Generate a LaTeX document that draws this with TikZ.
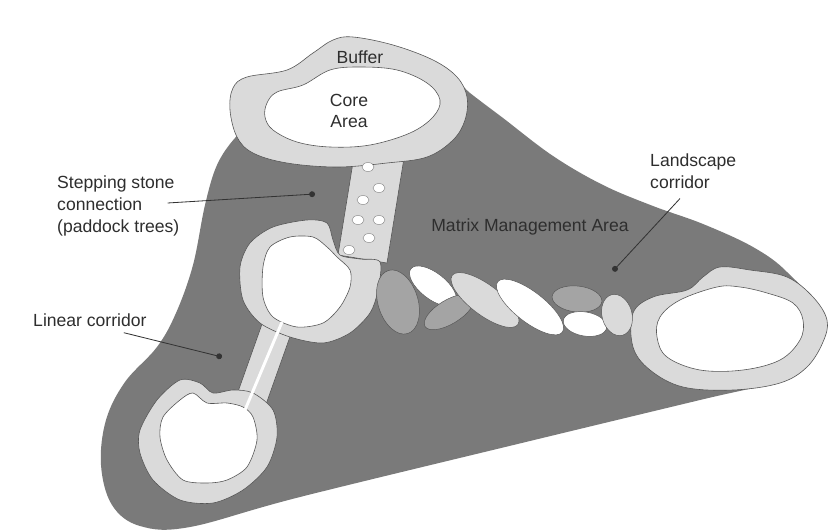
\documentclass[tikz,border=0pt]{standalone}
\usepackage{xcolor}
\usepackage{fontspec}
\setmainfont{Liberation Sans}
\usepackage{tikz}
\usetikzlibrary{arrows.meta, positioning, calc}

\definecolor{matrixgrey}{HTML}{7A7A7A}
\definecolor{buffergrey}{HTML}{DADADA}
\definecolor{lensgrey}{HTML}{A4A4A4}
\definecolor{edgegrey}{HTML}{555555}
\definecolor{textgrey}{HTML}{2E2E2E}

\begin{document}
\begin{tikzpicture}[
    x=0.03cm, y=-0.03cm,
    matrixarea/.style={fill=matrixgrey, draw=none},
    buffer/.style={fill=buffergrey, draw=edgegrey, line width=0.5pt},
    core/.style={fill=white, draw=edgegrey, line width=0.5pt},
    corridor/.style={fill=buffergrey, draw=edgegrey, line width=0.5pt},
    stone/.style={fill=white, draw=edgegrey!70, line width=0.4pt},
    darklens/.style={fill=lensgrey, draw=edgegrey, line width=0.4pt},
    lightlens/.style={fill=buffergrey, draw=edgegrey, line width=0.4pt},
    whitelens/.style={fill=white, draw=edgegrey, line width=0.4pt},
    caption/.style={font=\fontsize{15}{18.5}\selectfont, text=textgrey, align=left, inner sep=0pt},
    pointer/.style={draw=black!80, line width=0.7pt, -{Circle[length=5pt]}}
]

\useasboundingbox[fill=white] (0,0) rectangle (834,531);

% Matrix
\fill[matrixarea] plot[smooth cycle, tension=0.6] coordinates {
    (250,128) (330,115) (400,95) (443,71) (470,93) (503,118) (553,156) (603,185)
    (653,206) (703,224) (753,247) (787,272) (815,310) (800,365) (775,382)
    (700,400) (530,441) (300,497) (190,527) (140,526) (112,505) (101,465)
    (106,420) (125,382) (157,347) (176,313) (193,265) (205,205) (217,165)
    (235,138)};

% Corridors
\draw[corridor] (267,310) -- (297,317) -- (264,410) -- (234,403) -- cycle;
\draw[corridor] (355,150) -- (404,158) -- (387,263) -- (338,255) -- cycle;

% Patches
\draw[buffer] plot[smooth cycle, tension=0.6] coordinates {
    (230,110) (233,88) (247,77) (287,70) (313,53) (333,40) (353,37) (393,45)
    (433,60) (457,77) (467,97) (465,120) (453,140) (427,157) (387,163)
    (337,167) (287,163) (253,153) (237,137)};
\draw[core] plot[smooth cycle, tension=0.6] coordinates {
    (267,103) (277,92) (303,85) (330,70) (360,67) (397,70) (427,83) (440,100)
    (433,117) (410,133) (370,145) (330,147) (297,142) (273,130) (265,117)};

\draw[buffer] plot[smooth cycle, tension=0.5] coordinates {
    (243,300) (240,267) (250,243) (273,227) (307,220) (327,223) (333,240)
    (340,255) (360,259) (380,262) (378,290) (370,313) (350,333) (323,343)
    (290,337) (260,323)};
\draw[core] plot[smooth cycle, tension=0.5] coordinates {
    (263,267) (270,247) (290,237) (313,237) (327,247) (337,257) (350,270)
    (350,287) (340,307) (323,323) (297,327) (273,317) (263,297)};

\draw[buffer] plot[smooth cycle, tension=0.5] coordinates {
    (140,453) (140,430) (157,400) (180,380) (200,383) (213,393) (233,390)
    (253,393) (273,410) (277,437) (267,467) (243,490) (213,503) (180,500)
    (153,480)};
\draw[core] plot[smooth cycle, tension=0.5] coordinates {
    (160,437) (163,417) (180,400) (193,393) (207,403) (227,403) (243,407)
    (253,417) (257,440) (247,467) (227,480) (207,483) (183,480) (167,460)};

\draw[buffer] plot[smooth cycle, tension=0.6] coordinates {
    (653,297) (687,290) (703,277) (720,267) (750,270) (787,277) (813,297)
    (827,320) (823,342) (807,367) (780,383) (733,390) (683,387) (650,370)
    (633,347) (633,313)};
\draw[core] plot[smooth cycle, tension=0.6] coordinates {
    (657,337) (660,317) (680,300) (717,287) (740,287) (767,293) (793,303)
    (803,320) (800,340) (780,360) (743,370) (700,370) (667,357)};

% Linear corridor track
\draw[white, line width=2.5pt] (282,322) -- (245,410);

% Stepping stones
\foreach \sx/\sy in {368/167, 379/188, 363/200, 358/220, 379/220, 369/238, 349/250}
    \draw[stone] (\sx,\sy) ellipse [x radius=6, y radius=4.5];

% Landscape corridor
\draw[darklens, rotate around={17:(398,302)}] (398,302) ellipse [x radius=20, y radius=33];
\draw[whitelens, rotate around={-38:(433,286)}] (433,286) ellipse [x radius=28, y radius=13];
\draw[darklens, rotate around={31:(449,312)}] (449,312) ellipse [x radius=28, y radius=12];
\draw[lightlens, rotate around={-37:(485,300)}] (485,300) ellipse [x radius=41, y radius=15];
\draw[whitelens, rotate around={-38:(530,307)}] (530,307) ellipse [x radius=41, y radius=15];
\draw[darklens, rotate around={-6:(577,299)}] (577,299) ellipse [x radius=25, y radius=13];
\draw[whitelens, rotate around={-10:(585,324)}] (585,324) ellipse [x radius=22, y radius=12];
\draw[lightlens, rotate around={15:(617,315)}] (617,315) ellipse [x radius=15, y radius=21];

% Labels
\node[caption] (bufferlabel) at (360,57) {Buffer};
\node[caption, align=center] (corelabel) at (349,111) {Core\\Area};
\node[caption, anchor=west] (stepping) at (57,206) {Stepping stone\\connection\\(paddock trees)};
\node[caption, anchor=west] (linear) at (33,320) {Linear corridor};
\node[caption] (matrixlabel) at (530,227) {Matrix Management Area};
\node[caption, anchor=west] (landscape) at (650,171) {Landscape\\corridor};

% Pointers
\coordinate (stepdot) at (315,194);
\coordinate (lineardot) at (222,357);
\coordinate (landscapedot) at (613,271);
\draw[pointer] ($(stepping.east)+(-12,-3)$) -- (stepdot);
\draw[pointer] ($(linear.south east)+(-23,6)$) -- (lineardot);
\draw[pointer] ($(landscape.south west)+(30,10)$) -- (landscapedot);

\end{tikzpicture}
\end{document}
